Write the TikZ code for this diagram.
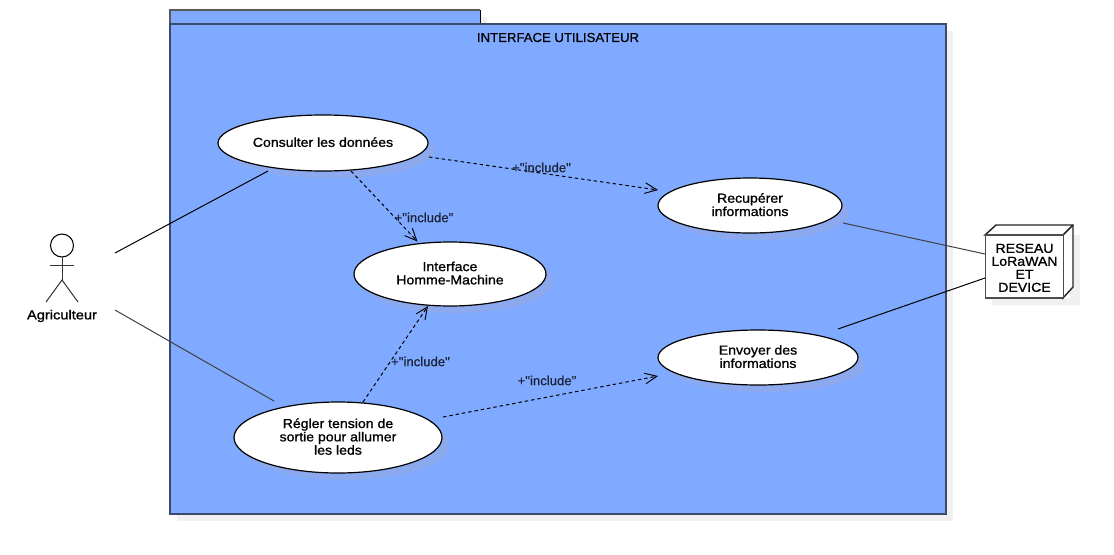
\documentclass[tikz,border=0pt]{standalone}
\usepackage{fontspec}
\setmainfont{Liberation Sans}
\newfontfamily\casefont[FakeBold=1.1,FakeStretch=1.085]{Liberation Sans}
\newfontfamily\actorfont[FakeBold=1.1,FakeStretch=1.125]{Liberation Sans}
\newfontfamily\titlefont[FakeBold=0.5,FakeStretch=1.012]{Liberation Sans}
\usetikzlibrary{shapes.geometric,arrows.meta}
\definecolor{pkgblue}{HTML}{80AAFF}
\definecolor{pkgedge}{HTML}{3A4A6E}
\definecolor{softshadow}{HTML}{F0F0F0}
\definecolor{ellshadow}{HTML}{8CA9EE}
\definecolor{inktext}{HTML}{1A2238}
\newcommand\casetext[2][-.75pt]{\raisebox{#1}[\height][\depth]{\begin{tabular}{@{}c@{}}#2\end{tabular}}}
\setlength{\tabcolsep}{0pt}
\tikzset{
  usecase/.style={ellipse,draw=black,fill=white,line width=.9pt,inner sep=0pt,outer sep=0pt,
    font=\casefont\fontsize{9.75}{9.75}\selectfont},
  caseshadow/.style={ellipse,fill=ellshadow,draw=none,inner sep=0pt,outer sep=0pt},
  assoc/.style={line width=.75pt,black},
  assocthin/.style={line width=.75pt,black!75},
  incl/.style={line width=.75pt,black,dash pattern=on 2.6pt off 2.2pt,-{Straight Barb[length=9pt,width=8pt,line width=.7pt]}},
  incllabel/.style={inner sep=0pt,outer sep=0pt,text=inktext,font=\titlefont\fontsize{9.75}{11}\selectfont},
  actorline/.style={line width=.75pt,black!80},
}
\begin{document}
\begin{tikzpicture}[x=.75pt,y=-.75pt]
\useasboundingbox[fill=white] (0,0) rectangle (1114,554);
% package
\fill[softshadow] (177,31) rectangle (953,521);
\fill[softshadow] (480,17) rectangle (487,24);
\draw[line width=1pt,black!65,fill=pkgblue] (170,24) -- (170,10) -- (480,10);
\draw[line width=.75pt,black,fill=pkgblue] (480,10) -- (480,24);
\fill[pkgblue] (171,11) rectangle (479.5,24);
\draw[line width=1.4pt,pkgedge,fill=pkgblue] (170,24) rectangle (946,514);
\node[inner sep=0pt,text=black,font=\titlefont\fontsize{9.75}{11}\selectfont] (pkgtitle) at (558,37.5) {INTERFACE UTILISATEUR};
% shadows of use cases
\node[caseshadow,minimum width=157.5pt,minimum height=42pt] at (330,150) {};
\node[caseshadow,minimum width=138pt,minimum height=41.25pt] at (757,212.5) {};
\node[caseshadow,minimum width=144pt,minimum height=48pt] at (457,281) {};
\node[caseshadow,minimum width=150pt,minimum height=41.25pt] at (765,364.5) {};
\node[caseshadow,minimum width=156pt,minimum height=53.25pt] at (345,444.5) {};
% use cases
\node[usecase,minimum width=157.5pt,minimum height=42pt] (consult) at (323,143) {\casetext{Consulter les données}};
\node[usecase,minimum width=138pt,minimum height=41.25pt] (recup) at (750,205.5) {\casetext{Recupérer\\informations}};
\node[usecase,minimum width=144pt,minimum height=48pt] (ihm) at (450,274) {\casetext{Interface\\Homme-Machine}};
\node[usecase,minimum width=150pt,minimum height=41.25pt] (envoi) at (758,357.5) {\casetext{Envoyer des\\informations}};
\node[usecase,minimum width=156pt,minimum height=53.25pt] (regler) at (338,437.5) {\casetext{Régler tension de\\sortie pour allumer\\les leds}};
% device
\fill[softshadow] (1070,235) -- (1080,235) -- (1080,305) -- (992,305) -- (992,298) -- (1070,298) -- cycle;
\draw[line width=1.1pt,black!85,fill=white] (985,235) -- (996,225) -- (1073,225) -- (1073,287) -- (1063,298) -- (1063,235) -- cycle;
\draw[line width=1.1pt,black!85] (1063,235) -- (1073,225);
\node[draw=black!70,line width=1.3pt,fill=white,minimum width=58.5pt,minimum height=47.25pt,inner sep=0pt,outer sep=0pt,
  font=\casefont\fontsize{9.75}{9.75}\selectfont] (net) at (1024.5,266.5) {\casetext[-2.4pt]{RESEAU\\LoRaWAN\\ET\\DEVICE}};
% actor
\node[circle,draw=black,line width=.8pt,minimum size=17.25pt,inner sep=0pt,outer sep=0pt] (head) at (62,245.5) {};
\coordinate (hip) at (62,280);
\coordinate (armL) at (50,265);
\coordinate (armR) at (74,265);
\coordinate (legL) at (46,302);
\coordinate (legR) at (78,302);
\draw[actorline] (head.south) -- (hip);
\draw[actorline] (armL) -- (armR);
\draw[actorline] (legL) -- (hip) -- (legR);
\node[inner sep=0pt,font=\actorfont\fontsize{9.75}{11}\selectfont] (agri) at (62,316) {Agriculteur};
% connector ends
\coordinate (a1) at (115,253);
\coordinate (a2) at (115,310);
\coordinate (c1) at ([shift={(-55,28)}]consult.center);
\coordinate (r1) at ([shift={(-64,-36.5)}]regler.center);
\coordinate (rc) at ([shift={(93,17.5)}]recup.center);
\coordinate (ec) at ([shift={(80,-28.5)}]envoi.center);
\coordinate (n1) at ([shift={(-39.5,-12.5)}]net.center);
\coordinate (n2) at ([shift={(-39.5,11.5)}]net.center);
\coordinate (ci1) at ([shift={(106,14)}]consult.center);
\coordinate (ri1) at ([shift={(-92,-15.5)}]recup.center);
\coordinate (ci2) at ([shift={(28,28)}]consult.center);
\coordinate (hi1) at ([shift={(-32.5,-32.5)}]ihm.center);
\coordinate (ri2) at ([shift={(25,-35.5)}]regler.center);
\coordinate (hi2) at ([shift={(-22,32)}]ihm.center);
\coordinate (ri3) at ([shift={(105,-20.5)}]regler.center);
\coordinate (ei1) at ([shift={(-100,18.5)}]envoi.center);
\draw[assoc] (a1) -- (c1);
\draw[assocthin] (a2) -- (r1);
\draw[assocthin] (rc) -- (n1);
\draw[assoc] (ec) -- (n2);
\draw[incl] (ci1) -- (ri1);
\draw[incl] (ci2) -- (hi1);
\draw[incl] (ri2) -- (hi2);
\draw[incl] (ri3) -- (ei1);
\node[incllabel] (l1) at (541.5,167.5) {+"include"};
\node[incllabel] (l2) at (424,217.5) {+"include"};
\node[incllabel] (l3) at (420.5,361.5) {+"include"};
\node[incllabel] (l4) at (547,380.5) {+"include"};
\end{tikzpicture}
\end{document}
